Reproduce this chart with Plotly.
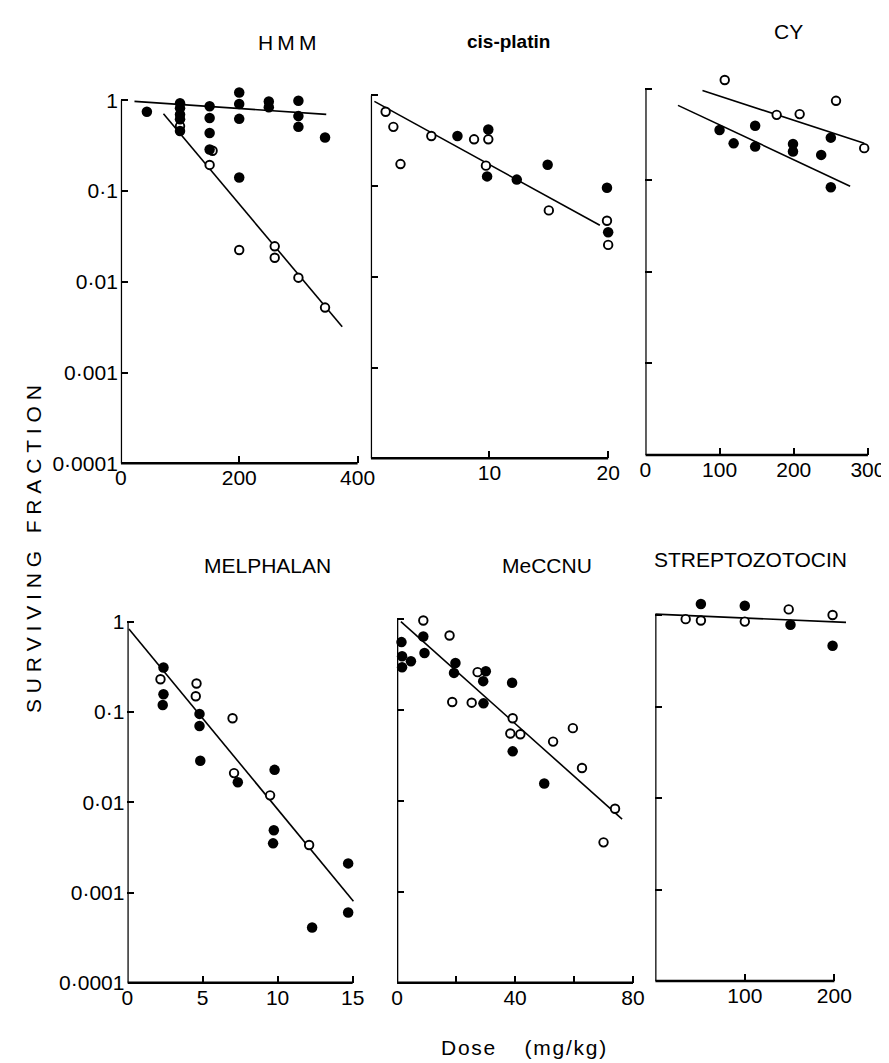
import plotly.graph_objects as go

W, H = 889, 1063

# ---------------- data ----------------
# HMM (dose 0-400)
hmm_open_x = [100, 155, 150, 200, 260, 260, 300, 345]
hmm_open_y = [0.52, 0.278, 0.194, 0.0224, 0.0246, 0.0184, 0.0111, 0.0052]
hmm_filled_x = [44, 100, 100, 100, 100, 100, 150, 150, 150, 150, 200, 200, 200, 200,
                250, 250, 300, 300, 300, 345]
hmm_filled_y = [0.75, 0.93, 0.82, 0.70, 0.62, 0.46, 0.86, 0.64, 0.437, 0.287, 1.22, 0.91, 0.625, 0.141,
                0.97, 0.84, 0.99, 0.67, 0.51, 0.39]
hmm_fit1_x = [23, 347]
hmm_fit1_y = [0.975, 0.70]
hmm_fit2_x = [72, 374]
hmm_fit2_y = [0.71, 0.0032]

# cis-platin (dose 0-20)
cis_open_x = [1.25, 1.9, 2.5, 5.1, 8.7, 9.9, 9.7, 15.0, 19.9, 20.0]
cis_open_y = [0.66, 0.45, 0.175, 0.357, 0.328, 0.328, 0.168, 0.054, 0.0415, 0.0225]
cis_filled_x = [7.3, 9.9, 9.8, 12.3, 14.9, 19.9, 20.0]
cis_filled_y = [0.357, 0.42, 0.128, 0.118, 0.172, 0.096, 0.031]
cis_fit_x = [0.3, 19.3]
cis_fit_y = [0.86, 0.037]

# CY (dose 0-300)
cy_open_x = [107, 177, 208, 257, 295]
cy_open_y = [1.25, 0.52, 0.53, 0.74, 0.225]
cy_filled_x = [100, 119, 148, 148, 199, 199, 237, 250, 250]
cy_filled_y = [0.355, 0.254, 0.395, 0.234, 0.25, 0.207, 0.19, 0.293, 0.084]
cy_fit1_x = [77, 295]
cy_fit1_y = [0.96, 0.254]
cy_fit2_x = [44, 276]
cy_fit2_y = [0.66, 0.0865]

# MELPHALAN (dose 0-15)
mel_open_x = [2.2, 4.6, 4.55, 7.0, 7.1, 9.5, 12.1]
mel_open_y = [0.23, 0.206, 0.149, 0.085, 0.021, 0.0119, 0.00336]
mel_filled_x = [2.4, 2.4, 2.35, 4.8, 4.8, 4.85, 7.35, 9.8, 9.75, 9.7, 12.3, 14.7, 14.7]
mel_filled_y = [0.31, 0.157, 0.119, 0.095, 0.0697, 0.0288, 0.0166, 0.0228, 0.0049, 0.0035,
                0.00041, 0.0021, 0.0006]
mel_fit_x = [0.1, 15.05]
mel_fit_y = [0.83, 0.0008]

# MeCCNU (dose 0-80)
mec_open_x = [8.9, 17.8, 18.7, 25.3, 27.3, 39.2, 38.4, 41.8, 52.9, 59.6, 62.7, 73.9, 70.0]
mec_open_y = [0.96, 0.658, 0.122, 0.12, 0.26, 0.081, 0.055, 0.054, 0.0448, 0.063, 0.023,
              0.0082, 0.0035]
mec_filled_x = [1.5, 1.7, 1.7, 4.7, 8.9, 9.3, 19.8, 19.3, 30.1, 29.2, 29.3, 39.0, 39.2, 49.9]
mec_filled_y = [0.556, 0.388, 0.294, 0.343, 0.641, 0.422, 0.328, 0.255, 0.266, 0.207, 0.118,
                0.199, 0.035, 0.0155]
mec_fit_x = [1.3, 76.3]
mec_fit_y = [0.935, 0.0063]

# STREPTOZOTOCIN (dose 0-200)
str_open_x = [34, 51, 100, 149, 198]
str_open_y = [0.90, 0.87, 0.846, 1.15, 1.0]
str_filled_x = [51, 100, 151, 198]
str_filled_y = [1.32, 1.26, 0.78, 0.46]
str_fit_x = [0, 213]
str_fit_y = [1.02, 0.83]

y_tickvals = [0.0001, 0.001, 0.01, 0.1, 1]
y_ticktext = ["0·0001", "0·001", "0·01", "0·1", "1"]

hmm_xticks = [0, 200, 400]
hmm_xticktext = ["0", "200", "400"]
cis_xticks = [0, 10, 20]
cis_xticktext = ["", "10", "20"]
cy_xticks = [0, 100, 200, 300]
cy_xticktext = ["0", "100", "200", "300"]
mel_xticks = [0, 5, 10, 15]
mel_xticktext = ["0", "5", "10", "15"]
mec_xticks = [0, 20, 40, 60, 80]
mec_xticktext = ["0", "", "40", "", "80"]
str_xticks = [100, 200]
str_xticktext = ["100", "200"]

panels = [
    dict(title="H\u2009M\u2009M", ox=hmm_open_x, oy=hmm_open_y, fx=hmm_filled_x, fy=hmm_filled_y,
         fits=[(hmm_fit1_x, hmm_fit1_y), (hmm_fit2_x, hmm_fit2_y)],
         xt=hmm_xticks, xtt=hmm_xticktext, ylab=True),
    dict(title="<b>cis-platin</b>", ox=cis_open_x, oy=cis_open_y, fx=cis_filled_x, fy=cis_filled_y,
         fits=[(cis_fit_x, cis_fit_y)], xt=cis_xticks, xtt=cis_xticktext, ylab=False),
    dict(title="CY", ox=cy_open_x, oy=cy_open_y, fx=cy_filled_x, fy=cy_filled_y,
         fits=[(cy_fit1_x, cy_fit1_y), (cy_fit2_x, cy_fit2_y)],
         xt=cy_xticks, xtt=cy_xticktext, ylab=False),
    dict(title="MELPHALAN", ox=mel_open_x, oy=mel_open_y, fx=mel_filled_x, fy=mel_filled_y,
         fits=[(mel_fit_x, mel_fit_y)], xt=mel_xticks, xtt=mel_xticktext, ylab=True),
    dict(title="MeCCNU", ox=mec_open_x, oy=mec_open_y, fx=mec_filled_x, fy=mec_filled_y,
         fits=[(mec_fit_x, mec_fit_y)], xt=mec_xticks, xtt=mec_xticktext, ylab=False),
    dict(title="STREPTOZOTOCIN", ox=str_open_x, oy=str_open_y, fx=str_filled_x, fy=str_filled_y,
         fits=[(str_fit_x, str_fit_y)], xt=str_xticks, xtt=str_xticktext, ylab=False),
]

# ---------------- geometry (pixels) ----------------
# x0 pixel of dose 0, pixels per dose unit, pixel of y=1, pixel of y=1e-4, max dose shown
geom = [
    (108.3, 0.600, 93.3, 460.0, 420),
    (361.7, 12.03, 88.3, 455.0, 21.2),
    (640.0, 0.752, 81.7, 451.7, 318),
    (115.0, 15.22, 620.0, 985.0, 15.7),
    (388.3, 2.99, 617.3, 985.0, 82),
    (650.0, 0.908, 613.3, 983.3, 218),
]
title_pos = [(277, 35), (501, 34), (785, 24), (257, 563), (540, 563), (747, 557)]
YTOP = 0.3

FONT = "Liberation Sans, Arial, sans-serif"

fig = go.Figure()
shapes = []
annotations = []

for i, (p, g) in enumerate(zip(panels, geom), start=1):
    x0, ppu, y1, yb, xmax = g
    dec = (yb - y1) / 4.0
    ytop_px = y1 - YTOP * dec
    xa = "x" if i == 1 else f"x{i}"
    ya = "y" if i == 1 else f"y{i}"
    lay_x = "xaxis" if i == 1 else f"xaxis{i}"
    lay_y = "yaxis" if i == 1 else f"yaxis{i}"

    for fx_, fy_ in p["fits"]:
        fig.add_trace(go.Scatter(x=fx_, y=fy_, mode="lines", xaxis=xa, yaxis=ya,
                                 line=dict(color="black", width=1.6), showlegend=False,
                                 hoverinfo="skip"))
    fig.add_trace(go.Scatter(x=p["ox"], y=p["oy"], mode="markers", xaxis=xa, yaxis=ya,
                             marker=dict(size=8.5, color="white", line=dict(color="black", width=1.9)),
                             cliponaxis=False, showlegend=False))
    fig.add_trace(go.Scatter(x=p["fx"], y=p["fy"], mode="markers", xaxis=xa, yaxis=ya,
                             marker=dict(size=10.5, color="black", line=dict(width=0)),
                             cliponaxis=False, showlegend=False))

    fig.layout[lay_x] = dict(
        domain=[x0 / W, (x0 + xmax * ppu) / W], range=[0, xmax], anchor=ya,
        showgrid=False, zeroline=False, showline=False,
        ticks="inside", ticklen=7, tickwidth=2, tickcolor="black",
        tickmode="array", tickvals=p["xt"], ticktext=p["xtt"],
        tickfont=dict(family=FONT, size=21, color="black"),
    )
    fig.layout[lay_y] = dict(
        domain=[1 - yb / H, 1 - ytop_px / H], range=[-4, YTOP], type="log", anchor=xa,
        showgrid=False, zeroline=False, showline=False,
        ticks="inside", ticklen=7, tickwidth=2, tickcolor="black",
        tickmode="array", tickvals=y_tickvals, ticktext=y_ticktext,
        showticklabels=p["ylab"], ticklabelstandoff=2,
        tickfont=dict(family=FONT, size=21, color="black"),
    )
    # axis lines: x from 0 to last tick, y from 1e-4 to 1
    shapes.append(dict(type="line", xref=xa, yref=f"{ya} domain", x0=0, x1=p["xt"][-1],
                       y0=0, y1=0, line=dict(color="black", width=2.5)))
    shapes.append(dict(type="line", xref=xa, yref=f"{ya} domain", x0=0, x1=0,
                       y0=0, y1=4.0 / (4.0 + YTOP), line=dict(color="black", width=2.5)))

    tx, ty = title_pos[i - 1]
    annotations.append(dict(text=p["title"], x=tx / W, y=1 - ty / H, xref="paper", yref="paper",
                            showarrow=False, xanchor="center", yanchor="middle",
                            font=dict(family=FONT, size=21 if i != 2 else 19, color="black")))

annotations.append(dict(
    text="\u00a0".join(list("SURVIVING")) + "\u00a0\u00a0\u00a0" + "\u00a0".join(list("FRACTION")),
    x=20 / W, y=1 - 547 / H, xref="paper", yref="paper", showarrow=False, textangle=-90,
    xanchor="center", yanchor="middle", font=dict(family=FONT, size=21, color="black")))
annotations.append(dict(
    text="D\u200ao\u200as\u200ae\u00a0\u00a0\u00a0\u00a0\u00a0(\u200am\u200ag\u200a/\u200ak\u200ag\u200a)",
    x=516 / W, y=1 - 1050 / H, xref="paper", yref="paper", showarrow=False,
    xanchor="center", yanchor="middle", font=dict(family=FONT, size=21, color="black")))

fig.update_layout(width=W, height=H, margin=dict(l=0, r=0, t=0, b=0),
                  paper_bgcolor="white", plot_bgcolor="white",
                  shapes=shapes, annotations=annotations, showlegend=False)

fig.write_html("out.html")
